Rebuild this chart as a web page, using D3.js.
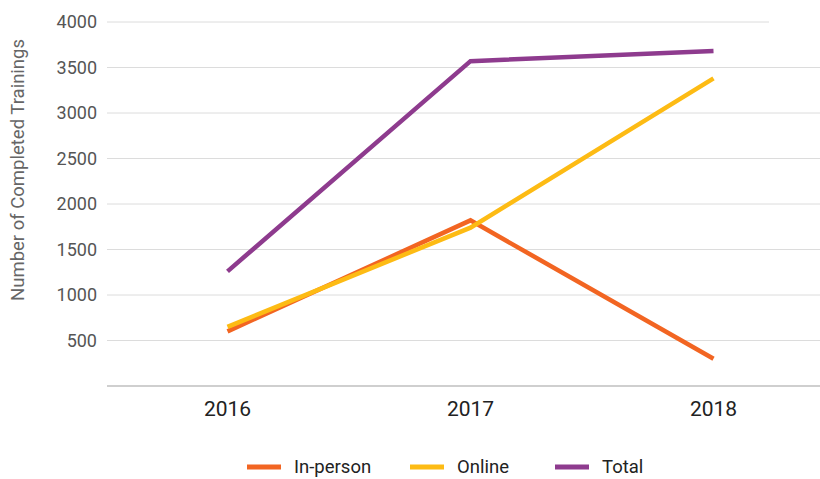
<!DOCTYPE html>
<html>
<head>
<meta charset="utf-8">
<script src="https://cdn.jsdelivr.net/npm/d3@7"></script>
<style>
  html, body { margin: 0; padding: 0; background: #fff; }
  svg { display: block; font-family: Roboto, "Noto Sans", sans-serif; }
</style>
</head>
<body>
<div id="chart"></div>
<script>
const years = ["2016", "2017", "2018"];
const inPerson = [600, 1820, 300];
const online = [650, 1740, 3380];
const total = [1260, 3570, 3680];
const yTicks = [500, 1000, 1500, 2000, 2500, 3000, 3500, 4000];

const series = [
  { name: "In-person", values: inPerson, color: "#f26522" },
  { name: "Online", values: online, color: "#fdbb14" },
  { name: "Total", values: total, color: "#8e3b8e" }
];

const width = 820, height = 479;

const svg = d3.select("#chart").append("svg")
    .attr("width", width)
    .attr("height", height);

const x = d3.scaleBand()
    .domain(years)
    .range([106, 835]);

const y = d3.scaleLinear()
    .domain([0, 4000])
    .range([386, 22]);

// gridlines
svg.append("g")
    .selectAll("line")
    .data(yTicks)
    .enter().append("line")
    .attr("x1", 107)
    .attr("x2", (d) => d === 4000 ? 769 : width)
    .attr("y1", (d) => y(d))
    .attr("y2", (d) => y(d))
    .attr("stroke", "#dcdcdc")
    .attr("stroke-width", 1);

// y labels
svg.append("g")
    .selectAll("text")
    .data(yTicks)
    .enter().append("text")
    .attr("x", 97)
    .attr("y", (d) => y(d))
    .attr("dy", "0.35em")
    .attr("text-anchor", "end")
    .attr("font-size", 18)
    .attr("fill", "#555")
    .text((d) => d);

// baseline
svg.append("line")
    .attr("x1", 107)
    .attr("x2", width)
    .attr("y1", y(0))
    .attr("y2", y(0))
    .attr("stroke", "#cfcfcf")
    .attr("stroke-width", 2);

// x labels
svg.append("g")
    .selectAll("text")
    .data(years)
    .enter().append("text")
    .attr("x", (d) => x(d) + x.bandwidth() / 2)
    .attr("y", 416)
    .attr("text-anchor", "middle")
    .attr("font-size", 21)
    .attr("fill", "#222")
    .text((d) => d);

// y title
svg.append("text")
    .attr("transform", "translate(24,170) rotate(-90)")
    .attr("text-anchor", "middle")
    .attr("font-size", 18.5)
    .attr("fill", "#666")
    .text("Number of Completed Trainings");

// lines
const line = d3.line()
    .x((d, i) => x(years[i]) + x.bandwidth() / 2)
    .y((d) => y(d));

svg.append("g")
    .selectAll("path")
    .data(series)
    .enter().append("path")
    .attr("d", (d) => line(d.values))
    .attr("fill", "none")
    .attr("stroke", (d) => d.color)
    .attr("stroke-width", 4.5)
    .attr("stroke-linejoin", "miter");

// legend
const legendX = [247, 410, 555];
const legend = svg.append("g")
    .selectAll("g")
    .data(series)
    .enter().append("g")
    .attr("transform", (d, i) => "translate(" + legendX[i] + ",467)");

legend.append("line")
    .attr("x1", 0)
    .attr("x2", 34)
    .attr("stroke", (d) => d.color)
    .attr("stroke-width", 5);

legend.append("text")
    .attr("x", 47)
    .attr("dy", "0.35em")
    .attr("font-size", 18.5)
    .attr("fill", "#222")
    .text((d) => d.name);
</script>
</body>
</html>
